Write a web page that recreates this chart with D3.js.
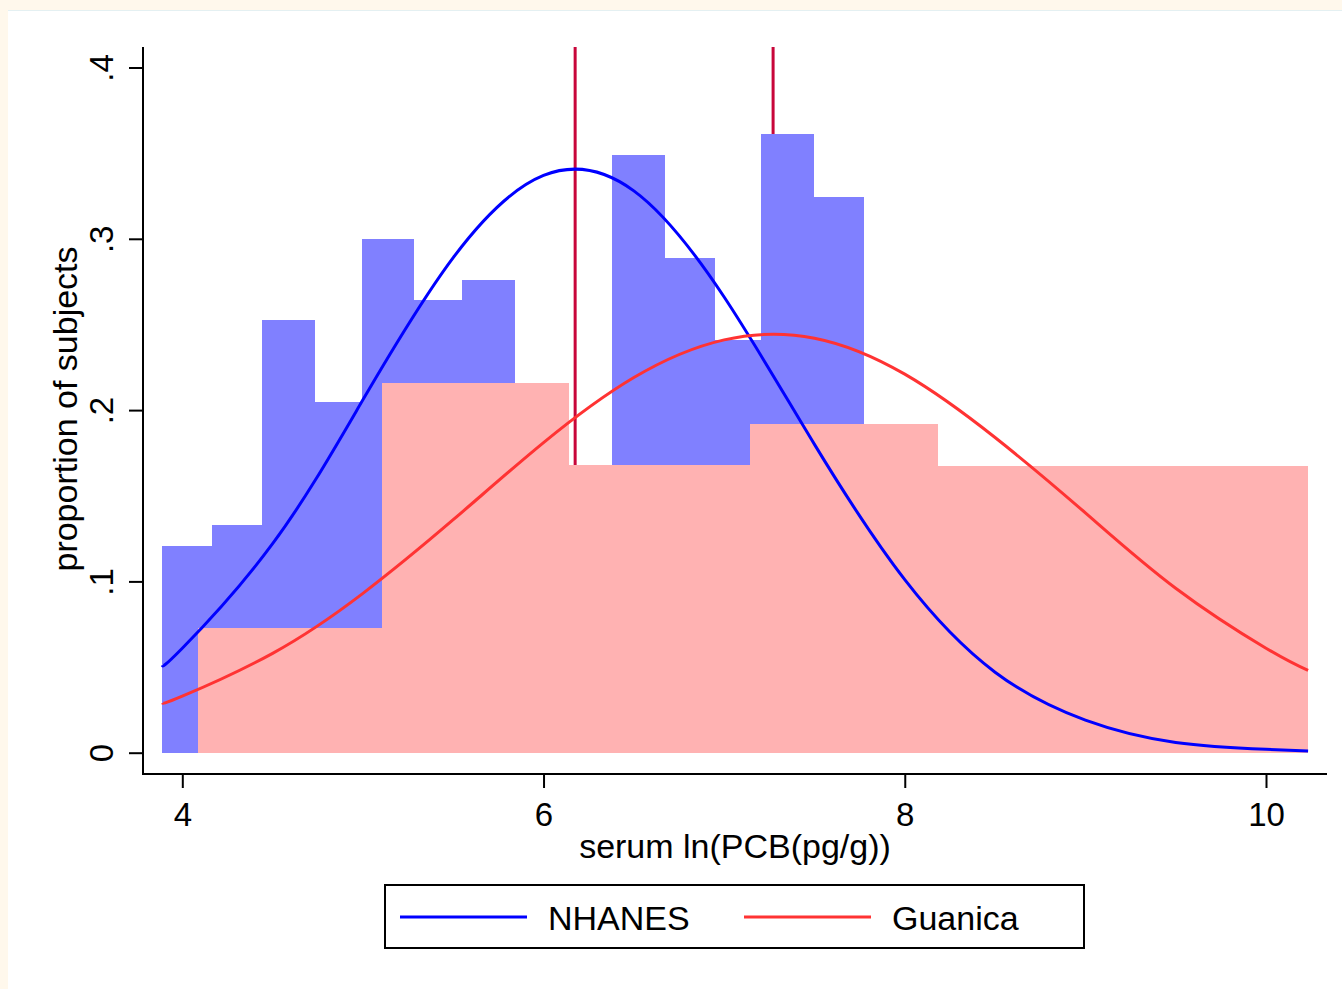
<!DOCTYPE html>
<html>
<head>
<meta charset="utf-8">
<script src="https://cdn.jsdelivr.net/npm/d3@7"></script>
<style>
  body { margin: 0; background: #fff; }
  text { font-family: "Liberation Sans", Arial, sans-serif; fill: #000; }
</style>
</head>
<body>
<script>
// Histogram bin edges and heights
var nhanesEdges = [3.889, 4.166, 4.443, 4.735, 4.995, 5.283, 5.549, 5.842, 6.102,
                   6.378, 6.671, 6.948, 7.204, 7.496, 7.773, 8.040, 8.317, 8.600];
var nhanesHeights = [0.1207, 0.1329, 0.2526, 0.2047, 0.3001, 0.2645, 0.2762, 0.16, 0.12,
                     0.3491, 0.2890, 0.2409, 0.3610, 0.3246, 0.10, 0.07, 0.045];
var guanicaEdges = [4.085, 5.106, 6.141, 7.143, 8.184, 9.203, 10.233];
var guanicaHeights = [0.0726, 0.2157, 0.1680, 0.1918, 0.1674, 0.1674];

// Fitted normal curves
var curveX =       [3.889, 4.0, 4.5, 5.0, 5.5, 6.0, 6.5, 7.0, 7.5, 8.0, 8.5, 9.0, 9.5, 10.0, 10.233];
var nhanesCurve =  [0.051, 0.061, 0.122, 0.206, 0.289, 0.337, 0.328, 0.266, 0.180, 0.101, 0.047, 0.019, 0.006, 0.002, 0.001];
var guanicaCurve = [0.029, 0.033, 0.058, 0.093, 0.136, 0.181, 0.219, 0.241, 0.242, 0.221, 0.184, 0.140, 0.096, 0.061, 0.048];

// Vertical reference lines (means)
var meanLines = [6.175, 7.271];

var xTicks = [4, 6, 8, 10];
var yTicks = [0, 0.1, 0.2, 0.3, 0.4];

var width = 1342, height = 989;

var svg = d3.select("body").append("svg")
  .attr("width", width)
  .attr("height", height);

// page background
svg.append("rect").attr("width", width).attr("height", height).attr("fill", "#fff8ec");
svg.append("rect").attr("x", 8).attr("y", 10).attr("width", width - 8).attr("height", height - 10).attr("fill", "#fff");
svg.append("line").attr("x1", 8).attr("x2", width).attr("y1", 10.5).attr("y2", 10.5)
  .attr("stroke", "#e4f0f2").attr("stroke-width", 1);

// scales
var x = d3.scaleLinear().domain([4, 10]).range([182.3, 1266]);
var y = d3.scaleLinear().domain([0, 0.4]).range([752.7, 67.5]);

var axisLeftX = 143, axisBottomY = 774, plotTop = 47, plotRight = 1327;

// mean lines (drawn first, histograms cover them)
svg.append("g").selectAll("line")
  .data(meanLines)
  .enter().append("line")
  .attr("x1", function (d) { return x(d); })
  .attr("x2", function (d) { return x(d); })
  .attr("y1", plotTop)
  .attr("y2", y(0))
  .attr("stroke", "#c8063a")
  .attr("stroke-width", 3);

// histograms
function drawHist(heights, edges, color) {
  svg.append("g").selectAll("rect")
    .data(heights)
    .enter().append("rect")
    .attr("x", function (d, i) { return x(edges[i]); })
    .attr("width", function (d, i) { return x(edges[i + 1]) - x(edges[i]); })
    .attr("y", function (d) { return y(d); })
    .attr("height", function (d) { return y(0) - y(d); })
    .attr("fill", color)
    .attr("shape-rendering", "crispEdges");
}
drawHist(nhanesHeights, nhanesEdges, "#8080ff");
drawHist(guanicaHeights, guanicaEdges, "#ffb2b2");

// normal curves
var line = d3.line()
  .x(function (d) { return x(d[0]); })
  .y(function (d) { return y(d[1]); })
  .curve(d3.curveNatural);

svg.append("path")
  .datum(d3.zip(curveX, nhanesCurve))
  .attr("d", line)
  .attr("fill", "none")
  .attr("stroke", "#0000ff")
  .attr("stroke-width", 3);

svg.append("path")
  .datum(d3.zip(curveX, guanicaCurve))
  .attr("d", line)
  .attr("fill", "none")
  .attr("stroke", "#ff3333")
  .attr("stroke-width", 3);

// axes
var xAxis = svg.append("g")
  .attr("transform", "translate(0," + axisBottomY + ")")
  .call(d3.axisBottom(x).tickValues(xTicks).tickSize(14).tickFormat(d3.format("d")));
xAxis.select(".domain").remove();
xAxis.selectAll("line").attr("stroke", "#000").attr("stroke-width", 2);
xAxis.selectAll("text")
  .attr("y", 52).attr("dy", null)
  .style("font-size", "33px")
  .style("font-family", "'Liberation Sans', Arial, sans-serif");
svg.append("line")
  .attr("x1", axisLeftX - 1).attr("x2", plotRight)
  .attr("y1", axisBottomY).attr("y2", axisBottomY)
  .attr("stroke", "#000").attr("stroke-width", 2);

var yAxis = svg.append("g")
  .attr("transform", "translate(" + axisLeftX + ",0)")
  .call(d3.axisLeft(y).tickValues(yTicks).tickSize(14)
    .tickFormat(function (d) { return d === 0 ? "0" : d3.format(".1f")(d).replace(/^0/, ""); }));
yAxis.select(".domain").remove();
yAxis.selectAll("line").attr("stroke", "#000").attr("stroke-width", 2);
yAxis.selectAll("text")
  .attr("x", null).attr("dy", null)
  .attr("transform", "translate(-30,0) rotate(-90)")
  .attr("text-anchor", "middle")
  .style("font-size", "33px")
  .style("font-family", "'Liberation Sans', Arial, sans-serif");
svg.append("line")
  .attr("x1", axisLeftX).attr("x2", axisLeftX)
  .attr("y1", plotTop).attr("y2", axisBottomY + 1)
  .attr("stroke", "#000").attr("stroke-width", 2);

// axis titles
svg.append("text")
  .attr("x", (axisLeftX + plotRight) / 2)
  .attr("y", 858)
  .attr("text-anchor", "middle")
  .style("font-size", "34px")
  .text("serum ln(PCB(pg/g))");

svg.append("text")
  .attr("transform", "translate(77,409) rotate(-90)")
  .attr("text-anchor", "middle")
  .style("font-size", "34px")
  .text("proportion of subjects");

// legend
var legendNames = ["NHANES", "Guanica"];
var legendColors = ["#0000ff", "#ff3333"];
var legend = svg.append("g");
legend.append("rect")
  .attr("x", 385).attr("y", 885)
  .attr("width", 699).attr("height", 63)
  .attr("fill", "#fff").attr("stroke", "#000").attr("stroke-width", 2);
var items = legend.selectAll("g.item")
  .data(legendNames)
  .enter().append("g")
  .attr("class", "item")
  .attr("transform", function (d, i) { return "translate(" + (i * 344) + ",0)"; });
items.append("line")
  .attr("x1", 400).attr("x2", 527)
  .attr("y1", 917).attr("y2", 917)
  .attr("stroke", function (d, i) { return legendColors[i]; })
  .attr("stroke-width", 3);
items.append("text")
  .attr("x", 548).attr("y", 930)
  .style("font-size", "34px")
  .text(function (d) { return d; });
</script>
</body>
</html>
